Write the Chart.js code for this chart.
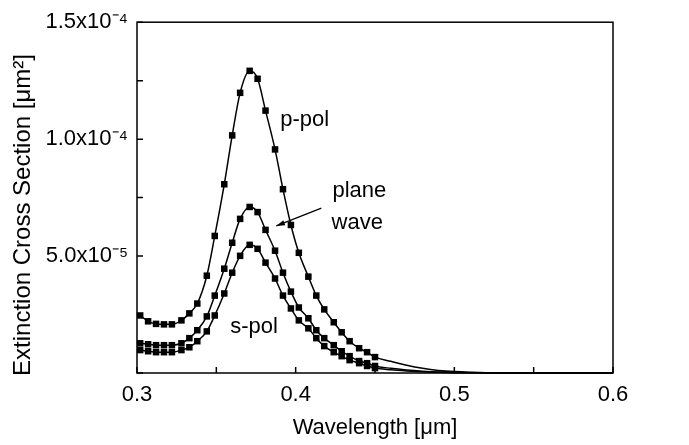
<!DOCTYPE html>
<html>
<head>
<meta charset="utf-8">
<script src="https://cdn.jsdelivr.net/npm/chart.js@4.4.1/dist/chart.umd.min.js"></script>
<style>
    html, body { margin: 0; padding: 0; background: #fff; }
</style>
</head>
<body>
<canvas id="chart1" width="689" height="445"></canvas>
<script>
// wavelength of the plotted markers [um]
const lambda = [0.302, 0.307, 0.312, 0.317, 0.322, 0.328, 0.333, 0.338, 0.344, 0.349,
    0.355, 0.360, 0.365, 0.371, 0.376, 0.381, 0.387, 0.392, 0.397, 0.402,
    0.408, 0.413, 0.418, 0.424, 0.429, 0.434, 0.440, 0.445, 0.450];

// extinction cross section, in units of 1e-5 um^2
const pPol = [2.46, 2.21, 2.10, 2.08, 2.08, 2.25, 2.55, 2.97, 4.16, 5.86,
    8.07, 10.16, 11.98, 12.92, 12.58, 11.22, 9.56, 7.86, 6.33, 5.14,
    4.12, 3.31, 2.72, 2.17, 1.74, 1.36, 1.06, 0.89, 0.68];
const planeWave = [1.27, 1.23, 1.19, 1.19, 1.19, 1.27, 1.49, 1.83, 2.42, 3.31,
    4.46, 5.57, 6.59, 7.10, 6.88, 6.12, 5.23, 4.29, 3.48, 2.80,
    2.34, 1.83, 1.49, 1.19, 0.93, 0.72, 0.51, 0.42, 0.30];
const sPol = [0.98, 0.93, 0.89, 0.89, 0.89, 0.98, 1.10, 1.36, 1.78, 2.46,
    3.40, 4.29, 5.01, 5.48, 5.31, 4.72, 4.04, 3.31, 2.76, 2.25,
    1.91, 1.49, 1.15, 0.89, 0.72, 0.55, 0.42, 0.30, 0.21];

// the curves go on past the last marker
const tailLambda = [0.46, 0.47, 0.48, 0.49, 0.50, 0.52, 0.55, 0.60];
const pPolTail = [0.50, 0.33, 0.20, 0.11, 0.06, 0.015, 0.003, 0];
const planeWaveTail = [0.20, 0.13, 0.08, 0.045, 0.025, 0.008, 0.002, 0];
const sPolTail = [0.14, 0.09, 0.05, 0.03, 0.015, 0.005, 0.001, 0];

const xMajor = [0.3, 0.4, 0.5, 0.6];
const xMinor = [0.35, 0.45, 0.55];
const yMajor = [0, 5e-5, 1e-4, 1.5e-4];
const yMinor = [2.5e-5, 7.5e-5, 1.25e-4];
const yTickLabels = ['', '5.0x10⁻⁵', '1.0x10⁻⁴', '1.5x10⁻⁴'];

const FONT = '"Liberation Sans", Arial, Helvetica, sans-serif';

function toPoints(xs, ys, tailXs, tailYs) {
    const pts = xs.map((x, i) => ({ x: x, y: ys[i] * 1e-5 }));
    tailXs.forEach((x, i) => pts.push({ x: x, y: tailYs[i] * 1e-5 }));
    return pts;
}

function makeSet(label, pts) {
    return {
        label: label,
        data: pts,
        borderColor: '#000',
        backgroundColor: '#000',
        borderWidth: 1.5,
        cubicInterpolationMode: 'monotone',
        pointStyle: 'rect',
        pointRadius: pts.map((p, i) => i < lambda.length ? 4.6 : 0),
        pointBorderWidth: 0,
        clip: false
    };
}

// box, inward ticks, y title and the labels on the curves
const framePlugin = {
    id: 'frame',
    afterDraw(chart) {
        const ctx = chart.ctx;
        const a = chart.chartArea;
        const xs = chart.scales.x;
        const ys = chart.scales.y;
        ctx.save();
        ctx.strokeStyle = '#000';
        ctx.lineWidth = 1.5;
        ctx.strokeRect(a.left, a.top, a.right - a.left, a.bottom - a.top);

        ctx.beginPath();
        xMajor.concat(xMinor).forEach(v => {
            const px = xs.getPixelForValue(v);
            ctx.moveTo(px, a.bottom);
            ctx.lineTo(px, a.bottom - 6);
        });
        yMajor.concat(yMinor).forEach(v => {
            const py = ys.getPixelForValue(v);
            ctx.moveTo(a.left, py);
            ctx.lineTo(a.left + 6, py);
        });
        ctx.stroke();

        ctx.fillStyle = '#000';

        // y axis title, a bit lower than the middle of the axis
        ctx.save();
        ctx.translate(23, 215);
        ctx.rotate(-Math.PI / 2);
        ctx.font = '24px ' + FONT;
        ctx.textAlign = 'center';
        ctx.textBaseline = 'middle';
        ctx.fillText('Extinction Cross Section [μm²]', 0, 0);
        ctx.restore();

        ctx.font = '22px ' + FONT;
        ctx.textAlign = 'left';
        ctx.textBaseline = 'middle';
        const notes = [
            ['p-pol', 0.3903, 1.083e-4],
            ['plane', 0.4232, 7.78e-5],
            ['wave', 0.4226, 6.42e-5],
            ['s-pol', 0.3588, 1.95e-5]
        ];
        notes.forEach(n => {
            ctx.fillText(n[0], xs.getPixelForValue(n[1]), ys.getPixelForValue(n[2]));
        });

        // arrow pointing at the plane wave curve
        const x1 = xs.getPixelForValue(0.4162), y1 = ys.getPixelForValue(7.05e-5);
        const x2 = xs.getPixelForValue(0.3878), y2 = ys.getPixelForValue(6.29e-5);
        const ang = Math.atan2(y2 - y1, x2 - x1);
        ctx.lineWidth = 1.2;
        ctx.beginPath();
        ctx.moveTo(x1, y1);
        ctx.lineTo(x2, y2);
        ctx.stroke();
        ctx.beginPath();
        ctx.moveTo(x2, y2);
        ctx.lineTo(x2 - 9 * Math.cos(ang - 0.3), y2 - 9 * Math.sin(ang - 0.3));
        ctx.lineTo(x2 - 9 * Math.cos(ang + 0.3), y2 - 9 * Math.sin(ang + 0.3));
        ctx.closePath();
        ctx.fill();
        ctx.restore();
    }
};

function drawChart() {
    const data = {
        datasets: [
            makeSet('p-pol', toPoints(lambda, pPol, tailLambda, pPolTail)),
            makeSet('plane wave', toPoints(lambda, planeWave, tailLambda, planeWaveTail)),
            makeSet('s-pol', toPoints(lambda, sPol, tailLambda, sPolTail))
        ]
    };

    const options = {
        responsive: false,
        animation: false,
        layout: { padding: { top: 20, right: 76, left: 0, bottom: 0 } },
        plugins: {
            legend: { display: false },
            tooltip: { enabled: false }
        },
        scales: {
            x: {
                type: 'linear',
                min: 0.3,
                max: 0.6,
                border: { display: false },
                grid: { display: false, drawTicks: false },
                ticks: {
                    stepSize: 0.1,
                    padding: 9,
                    maxRotation: 0,
                    color: '#000',
                    font: { family: FONT, size: 22 },
                    callback: v => v.toFixed(1)
                },
                title: {
                    display: true,
                    text: 'Wavelength [μm]',
                    color: '#000',
                    font: { family: FONT, size: 22 },
                    padding: { top: 0, bottom: 4 }
                },
                afterFit(scale) { scale.height = 72; }
            },
            y: {
                min: 0,
                max: 1.5e-4,
                border: { display: false },
                grid: { display: false, drawTicks: false },
                ticks: {
                    stepSize: 5e-5,
                    padding: 9,
                    color: '#000',
                    font: { family: FONT, size: 22 },
                    callback: v => yTickLabels[Math.round(v / 5e-5)]
                },
                afterFit(scale) { scale.width = 137; }
            }
        }
    };

    const ctx = document.getElementById('chart1').getContext('2d');
    new Chart(ctx, {
        type: 'line',
        data: data,
        options: options,
        plugins: [framePlugin]
    });
}

drawChart();
</script>
</body>
</html>
